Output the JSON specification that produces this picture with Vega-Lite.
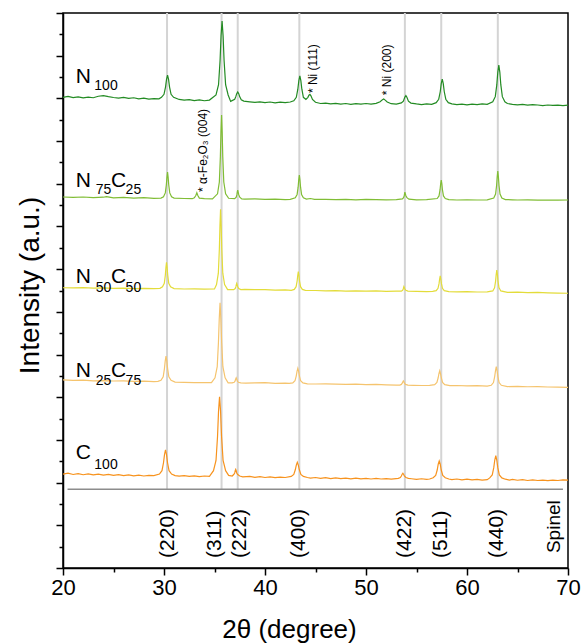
{
  "$schema": "https://vega.github.io/schema/vega-lite/v6.json",
  "width": 505,
  "height": 555,
  "autosize": "none",
  "padding": {"left": 63, "top": 13, "right": 14, "bottom": 76},
  "background": "white",
  "config": {
    "font": "Liberation Sans",
    "view": {"stroke": "black", "strokeWidth": 1.5},
    "axis": {"domainColor": "black", "tickColor": "black", "grid": false, "labelColor": "black", "titleColor": "black", "labelFont": "Liberation Sans", "titleFont": "Liberation Sans", "titleFontWeight": "normal", "domainWidth": 1.5, "tickWidth": 1.5},
    "text": {"font": "Liberation Sans", "color": "black"}
  },
  "datasets": {
    "peaks": [{"x": 30.3}, {"x": 35.7}, {"x": 37.3}, {"x": 43.4}, {"x": 53.85}, {"x": 57.45}, {"x": 63.05}],
    "big": [
      {"x": 21.25, "y": 22.70, "t": "N"},
      {"x": 21.25, "y": 17.86, "t": "N"}, {"x": 24.75, "y": 17.86, "t": "C"},
      {"x": 21.25, "y": 13.33, "t": "N"}, {"x": 24.75, "y": 13.33, "t": "C"},
      {"x": 21.25, "y": 8.96, "t": "N"}, {"x": 24.75, "y": 8.96, "t": "C"},
      {"x": 21.25, "y": 5.09, "t": "C"}
    ],
    "sub": [
      {"x": 23.1, "y": 22.39, "t": "100"},
      {"x": 23.25, "y": 17.50, "t": "75"}, {"x": 26.2, "y": 17.50, "t": "25"},
      {"x": 23.25, "y": 12.94, "t": "50"}, {"x": 26.2, "y": 12.94, "t": "50"},
      {"x": 23.25, "y": 8.57, "t": "25"}, {"x": 26.2, "y": 8.57, "t": "75"},
      {"x": 23.1, "y": 4.62, "t": "100"}
    ],
    "notes": [
      {"x": 34.28, "y": 17.61, "t": "* α-Fe₂O₃ (004)"},
      {"x": 45.17, "y": 22.25, "t": "* Ni (111)"},
      {"x": 52.45, "y": 22.15, "t": "* Ni (200)"}
    ],
    "hkl": [
      {"x": 30.4, "y": 0.47, "t": "(220)"},
      {"x": 35.05, "y": 0.47, "t": "(311)"},
      {"x": 37.5, "y": 0.47, "t": "(222)"},
      {"x": 43.35, "y": 0.47, "t": "(400)"},
      {"x": 53.85, "y": 0.47, "t": "(422)"},
      {"x": 57.4, "y": 0.47, "t": "(511)"},
      {"x": 62.95, "y": 0.47, "t": "(440)"}
    ],
    "spinel": [{"x": 68.6, "y": 0.70, "t": "Spinel"}],
    "xrd": [
      {"s":"N100","x":20,"y":22.05},{"s":"N100","x":20.5,"y":22.09},{"s":"N100","x":21,"y":22.04},{"s":"N100","x":21.5,"y":22.07},{"s":"N100","x":22,"y":22.02},{"s":"N100","x":22.5,"y":22.06},{"s":"N100","x":23,"y":22.03},{"s":"N100","x":23.5,"y":22.10},{"s":"N100","x":24,"y":22.13},{"s":"N100","x":24.5,"y":22.08},{"s":"N100","x":25,"y":22.04},{"s":"N100","x":25.5,"y":22.01},{"s":"N100","x":26,"y":22.05},{"s":"N100","x":26.5,"y":22.00},{"s":"N100","x":27,"y":22.03},{"s":"N100","x":27.5,"y":21.98},{"s":"N100","x":28,"y":22.01},{"s":"N100","x":28.5,"y":21.97},{"s":"N100","x":29,"y":21.99},{"s":"N100","x":29.5,"y":21.98},
      {"s":"N100","x":29.75,"y":22.05},{"s":"N100","x":30.0,"y":22.19},{"s":"N100","x":30.15,"y":22.53},{"s":"N100","x":30.25,"y":22.89},{"s":"N100","x":30.35,"y":23.09},{"s":"N100","x":30.45,"y":22.89},{"s":"N100","x":30.55,"y":22.53},{"s":"N100","x":30.7,"y":22.19},{"s":"N100","x":30.95,"y":22.05},
      {"s":"N100","x":31.5,"y":21.95},{"s":"N100","x":32,"y":21.92},{"s":"N100","x":32.5,"y":21.94},{"s":"N100","x":33,"y":21.90},{"s":"N100","x":33.5,"y":21.93},{"s":"N100","x":34,"y":21.89},{"s":"N100","x":34.5,"y":21.92},
      {"s":"N100","x":35.15,"y":22.16},{"s":"N100","x":35.4,"y":22.64},{"s":"N100","x":35.55,"y":23.76},{"s":"N100","x":35.65,"y":24.95},{"s":"N100","x":35.75,"y":25.62},{"s":"N100","x":35.85,"y":24.95},{"s":"N100","x":35.95,"y":23.76},{"s":"N100","x":36.1,"y":22.64},{"s":"N100","x":36.35,"y":22.16},
      {"s":"N100","x":36.6,"y":21.86},{"s":"N100","x":37.0,"y":21.96},{"s":"N100","x":37.1,"y":22.07},{"s":"N100","x":37.2,"y":22.22},{"s":"N100","x":37.3,"y":22.30},{"s":"N100","x":37.4,"y":22.22},{"s":"N100","x":37.5,"y":22.07},{"s":"N100","x":37.65,"y":21.93},{"s":"N100","x":37.9,"y":21.87},
      {"s":"N100","x":38.5,"y":21.84},{"s":"N100","x":39,"y":21.81},{"s":"N100","x":39.5,"y":21.84},{"s":"N100","x":40,"y":21.80},{"s":"N100","x":40.5,"y":21.83},{"s":"N100","x":41,"y":21.79},{"s":"N100","x":41.5,"y":21.82},{"s":"N100","x":42,"y":21.80},{"s":"N100","x":42.5,"y":21.83},
      {"s":"N100","x":42.85,"y":21.89},{"s":"N100","x":43.1,"y":22.05},{"s":"N100","x":43.25,"y":22.43},{"s":"N100","x":43.35,"y":22.83},{"s":"N100","x":43.45,"y":23.05},{"s":"N100","x":43.55,"y":22.83},{"s":"N100","x":43.65,"y":22.43},{"s":"N100","x":43.8,"y":22.05},{"s":"N100","x":44.05,"y":21.95},
      {"s":"N100","x":44.25,"y":22.05},{"s":"N100","x":44.35,"y":22.15},{"s":"N100","x":44.45,"y":22.19},{"s":"N100","x":44.55,"y":22.12},{"s":"N100","x":44.7,"y":21.95},{"s":"N100","x":45.0,"y":21.82},
      {"s":"N100","x":45.5,"y":21.76},{"s":"N100","x":46,"y":21.78},{"s":"N100","x":46.5,"y":21.74},{"s":"N100","x":47,"y":21.77},{"s":"N100","x":47.5,"y":21.73},{"s":"N100","x":48,"y":21.76},{"s":"N100","x":48.5,"y":21.72},{"s":"N100","x":49,"y":21.75},{"s":"N100","x":49.5,"y":21.73},{"s":"N100","x":50,"y":21.76},{"s":"N100","x":50.5,"y":21.73},{"s":"N100","x":51,"y":21.77},
      {"s":"N100","x":51.4,"y":21.84},{"s":"N100","x":51.6,"y":21.93},{"s":"N100","x":51.75,"y":21.97},{"s":"N100","x":51.9,"y":21.92},{"s":"N100","x":52.1,"y":21.83},{"s":"N100","x":52.5,"y":21.75},{"s":"N100","x":53.0,"y":21.73},
      {"s":"N100","x":53.5,"y":21.79},{"s":"N100","x":53.7,"y":21.87},{"s":"N100","x":53.85,"y":22.06},{"s":"N100","x":53.95,"y":22.13},{"s":"N100","x":54.05,"y":22.05},{"s":"N100","x":54.2,"y":21.87},{"s":"N100","x":54.45,"y":21.78},
      {"s":"N100","x":55,"y":21.74},{"s":"N100","x":55.5,"y":21.71},{"s":"N100","x":56,"y":21.74},{"s":"N100","x":56.5,"y":21.72},
      {"s":"N100","x":56.95,"y":21.80},{"s":"N100","x":57.2,"y":21.96},{"s":"N100","x":57.35,"y":22.31},{"s":"N100","x":57.45,"y":22.69},{"s":"N100","x":57.55,"y":22.90},{"s":"N100","x":57.65,"y":22.69},{"s":"N100","x":57.75,"y":22.31},{"s":"N100","x":57.9,"y":21.96},{"s":"N100","x":58.15,"y":21.80},
      {"s":"N100","x":58.5,"y":21.74},{"s":"N100","x":59,"y":21.71},{"s":"N100","x":59.5,"y":21.73},{"s":"N100","x":60,"y":21.70},{"s":"N100","x":60.5,"y":21.73},{"s":"N100","x":61,"y":21.71},{"s":"N100","x":61.5,"y":21.74},{"s":"N100","x":62,"y":21.72},
      {"s":"N100","x":62.55,"y":21.84},{"s":"N100","x":62.8,"y":22.08},{"s":"N100","x":62.95,"y":22.63},{"s":"N100","x":63.05,"y":23.23},{"s":"N100","x":63.15,"y":23.56},{"s":"N100","x":63.25,"y":23.23},{"s":"N100","x":63.35,"y":22.63},{"s":"N100","x":63.5,"y":22.08},{"s":"N100","x":63.75,"y":21.84},
      {"s":"N100","x":64,"y":21.76},{"s":"N100","x":64.5,"y":21.72},{"s":"N100","x":65,"y":21.70},{"s":"N100","x":65.5,"y":21.72},{"s":"N100","x":66,"y":21.68},{"s":"N100","x":66.5,"y":21.71},{"s":"N100","x":67,"y":21.69},{"s":"N100","x":67.5,"y":21.66},{"s":"N100","x":68,"y":21.69},{"s":"N100","x":68.5,"y":21.67},{"s":"N100","x":69,"y":21.68},{"s":"N100","x":69.5,"y":21.66},{"s":"N100","x":70,"y":21.68},

      {"s":"N75C25","x":20,"y":17.38},{"s":"N75C25","x":21,"y":17.36},{"s":"N75C25","x":22,"y":17.38},{"s":"N75C25","x":23,"y":17.35},{"s":"N75C25","x":24,"y":17.37},{"s":"N75C25","x":24.3,"y":17.40},{"s":"N75C25","x":25,"y":17.34},{"s":"N75C25","x":26,"y":17.36},{"s":"N75C25","x":27,"y":17.33},{"s":"N75C25","x":28,"y":17.35},{"s":"N75C25","x":29,"y":17.32},{"s":"N75C25","x":29.7,"y":17.33},
      {"s":"N75C25","x":29.95,"y":17.39},{"s":"N75C25","x":30.13,"y":17.57},{"s":"N75C25","x":30.23,"y":17.94},{"s":"N75C25","x":30.29,"y":18.30},{"s":"N75C25","x":30.35,"y":18.55},{"s":"N75C25","x":30.41,"y":18.30},{"s":"N75C25","x":30.47,"y":17.94},{"s":"N75C25","x":30.57,"y":17.57},{"s":"N75C25","x":30.75,"y":17.39},
      {"s":"N75C25","x":31,"y":17.33},{"s":"N75C25","x":32,"y":17.31},{"s":"N75C25","x":32.8,"y":17.30},{"s":"N75C25","x":33.0,"y":17.34},{"s":"N75C25","x":33.15,"y":17.45},{"s":"N75C25","x":33.25,"y":17.58},{"s":"N75C25","x":33.35,"y":17.45},{"s":"N75C25","x":33.5,"y":17.33},{"s":"N75C25","x":34,"y":17.30},{"s":"N75C25","x":34.8,"y":17.29},
      {"s":"N75C25","x":35.3,"y":17.53},{"s":"N75C25","x":35.48,"y":18.08},{"s":"N75C25","x":35.58,"y":19.26},{"s":"N75C25","x":35.64,"y":20.43},{"s":"N75C25","x":35.7,"y":21.22},{"s":"N75C25","x":35.76,"y":20.43},{"s":"N75C25","x":35.82,"y":19.26},{"s":"N75C25","x":35.92,"y":18.08},{"s":"N75C25","x":36.1,"y":17.53},{"s":"N75C25","x":36.4,"y":17.32},
      {"s":"N75C25","x":37.0,"y":17.30},{"s":"N75C25","x":37.15,"y":17.37},{"s":"N75C25","x":37.22,"y":17.49},{"s":"N75C25","x":37.26,"y":17.62},{"s":"N75C25","x":37.3,"y":17.70},{"s":"N75C25","x":37.34,"y":17.62},{"s":"N75C25","x":37.4,"y":17.49},{"s":"N75C25","x":37.5,"y":17.37},{"s":"N75C25","x":37.7,"y":17.29},
      {"s":"N75C25","x":38,"y":17.28},{"s":"N75C25","x":39,"y":17.29},{"s":"N75C25","x":40,"y":17.27},{"s":"N75C25","x":41,"y":17.28},{"s":"N75C25","x":42,"y":17.26},{"s":"N75C25","x":42.5,"y":17.27},
      {"s":"N75C25","x":43.0,"y":17.34},{"s":"N75C25","x":43.18,"y":17.50},{"s":"N75C25","x":43.28,"y":17.84},{"s":"N75C25","x":43.34,"y":18.18},{"s":"N75C25","x":43.4,"y":18.41},{"s":"N75C25","x":43.46,"y":18.18},{"s":"N75C25","x":43.52,"y":17.84},{"s":"N75C25","x":43.62,"y":17.50},{"s":"N75C25","x":43.8,"y":17.34},{"s":"N75C25","x":44.1,"y":17.28},
      {"s":"N75C25","x":44.5,"y":17.31},{"s":"N75C25","x":44.9,"y":17.27},{"s":"N75C25","x":46,"y":17.27},{"s":"N75C25","x":47,"y":17.26},{"s":"N75C25","x":48,"y":17.27},{"s":"N75C25","x":49,"y":17.25},{"s":"N75C25","x":50,"y":17.27},{"s":"N75C25","x":51,"y":17.26},{"s":"N75C25","x":52,"y":17.25},{"s":"N75C25","x":53,"y":17.26},
      {"s":"N75C25","x":53.6,"y":17.29},{"s":"N75C25","x":53.72,"y":17.35},{"s":"N75C25","x":53.79,"y":17.44},{"s":"N75C25","x":53.82,"y":17.54},{"s":"N75C25","x":53.85,"y":17.61},{"s":"N75C25","x":53.89,"y":17.54},{"s":"N75C25","x":53.95,"y":17.44},{"s":"N75C25","x":54.05,"y":17.35},{"s":"N75C25","x":54.25,"y":17.28},
      {"s":"N75C25","x":55,"y":17.25},{"s":"N75C25","x":56,"y":17.26},
      {"s":"N75C25","x":57.05,"y":17.31},{"s":"N75C25","x":57.23,"y":17.43},{"s":"N75C25","x":57.33,"y":17.71},{"s":"N75C25","x":57.39,"y":17.99},{"s":"N75C25","x":57.45,"y":18.17},{"s":"N75C25","x":57.51,"y":17.99},{"s":"N75C25","x":57.57,"y":17.71},{"s":"N75C25","x":57.67,"y":17.43},{"s":"N75C25","x":57.85,"y":17.31},{"s":"N75C25","x":58.2,"y":17.26},
      {"s":"N75C25","x":59,"y":17.24},{"s":"N75C25","x":60,"y":17.25},{"s":"N75C25","x":61,"y":17.24},{"s":"N75C25","x":62,"y":17.25},
      {"s":"N75C25","x":62.65,"y":17.33},{"s":"N75C25","x":62.83,"y":17.52},{"s":"N75C25","x":62.93,"y":17.92},{"s":"N75C25","x":62.99,"y":18.32},{"s":"N75C25","x":63.05,"y":18.59},{"s":"N75C25","x":63.11,"y":18.32},{"s":"N75C25","x":63.17,"y":17.92},{"s":"N75C25","x":63.27,"y":17.52},{"s":"N75C25","x":63.45,"y":17.33},{"s":"N75C25","x":63.8,"y":17.26},
      {"s":"N75C25","x":64.5,"y":17.25},{"s":"N75C25","x":65,"y":17.24},{"s":"N75C25","x":66,"y":17.25},{"s":"N75C25","x":67,"y":17.23},{"s":"N75C25","x":68,"y":17.24},{"s":"N75C25","x":69,"y":17.23},{"s":"N75C25","x":70,"y":17.24},

      {"s":"N50C50","x":20,"y":13.13},{"s":"N50C50","x":21,"y":13.12},{"s":"N50C50","x":22,"y":13.13},{"s":"N50C50","x":23,"y":13.11},{"s":"N50C50","x":24,"y":13.12},{"s":"N50C50","x":25,"y":13.10},{"s":"N50C50","x":26,"y":13.11},{"s":"N50C50","x":27,"y":13.09},{"s":"N50C50","x":28,"y":13.10},{"s":"N50C50","x":29,"y":13.09},{"s":"N50C50","x":29.6,"y":13.10},
      {"s":"N50C50","x":29.85,"y":13.17},{"s":"N50C50","x":30.03,"y":13.34},{"s":"N50C50","x":30.13,"y":13.71},{"s":"N50C50","x":30.19,"y":14.08},{"s":"N50C50","x":30.25,"y":14.32},{"s":"N50C50","x":30.31,"y":14.08},{"s":"N50C50","x":30.37,"y":13.71},{"s":"N50C50","x":30.47,"y":13.34},{"s":"N50C50","x":30.65,"y":13.17},
      {"s":"N50C50","x":31,"y":13.09},{"s":"N50C50","x":32,"y":13.07},{"s":"N50C50","x":33,"y":13.08},{"s":"N50C50","x":34,"y":13.06},{"s":"N50C50","x":35.0,"y":13.07},
      {"s":"N50C50","x":35.2,"y":13.28},{"s":"N50C50","x":35.38,"y":13.81},{"s":"N50C50","x":35.48,"y":14.93},{"s":"N50C50","x":35.54,"y":16.05},{"s":"N50C50","x":35.6,"y":16.80},{"s":"N50C50","x":35.66,"y":16.05},{"s":"N50C50","x":35.72,"y":14.93},{"s":"N50C50","x":35.82,"y":13.81},{"s":"N50C50","x":36.0,"y":13.28},{"s":"N50C50","x":36.3,"y":13.04},
      {"s":"N50C50","x":36.9,"y":13.04},{"s":"N50C50","x":37.05,"y":13.09},{"s":"N50C50","x":37.12,"y":13.18},{"s":"N50C50","x":37.16,"y":13.27},{"s":"N50C50","x":37.2,"y":13.33},{"s":"N50C50","x":37.24,"y":13.27},{"s":"N50C50","x":37.3,"y":13.18},{"s":"N50C50","x":37.4,"y":13.09},{"s":"N50C50","x":37.6,"y":13.04},
      {"s":"N50C50","x":38,"y":13.05},{"s":"N50C50","x":39,"y":13.04},{"s":"N50C50","x":40,"y":13.04},{"s":"N50C50","x":41,"y":13.02},{"s":"N50C50","x":42,"y":13.03},{"s":"N50C50","x":42.6,"y":13.01},
      {"s":"N50C50","x":42.9,"y":13.05},{"s":"N50C50","x":43.08,"y":13.18},{"s":"N50C50","x":43.18,"y":13.44},{"s":"N50C50","x":43.24,"y":13.70},{"s":"N50C50","x":43.3,"y":13.88},{"s":"N50C50","x":43.36,"y":13.70},{"s":"N50C50","x":43.42,"y":13.44},{"s":"N50C50","x":43.52,"y":13.18},{"s":"N50C50","x":43.7,"y":13.05},{"s":"N50C50","x":44.0,"y":13.01},
      {"s":"N50C50","x":45,"y":13.00},{"s":"N50C50","x":46,"y":12.98},{"s":"N50C50","x":47,"y":12.99},{"s":"N50C50","x":48,"y":12.97},{"s":"N50C50","x":49,"y":12.98},{"s":"N50C50","x":50,"y":12.97},{"s":"N50C50","x":51,"y":12.98},{"s":"N50C50","x":52,"y":12.96},{"s":"N50C50","x":53,"y":12.97},
      {"s":"N50C50","x":53.5,"y":12.97},{"s":"N50C50","x":53.62,"y":13.01},{"s":"N50C50","x":53.69,"y":13.07},{"s":"N50C50","x":53.72,"y":13.14},{"s":"N50C50","x":53.75,"y":13.18},{"s":"N50C50","x":53.79,"y":13.14},{"s":"N50C50","x":53.85,"y":13.07},{"s":"N50C50","x":53.95,"y":13.01},{"s":"N50C50","x":54.15,"y":12.97},
      {"s":"N50C50","x":55,"y":12.96},{"s":"N50C50","x":56,"y":12.95},{"s":"N50C50","x":56.6,"y":12.96},
      {"s":"N50C50","x":56.95,"y":12.99},{"s":"N50C50","x":57.13,"y":13.10},{"s":"N50C50","x":57.23,"y":13.32},{"s":"N50C50","x":57.29,"y":13.53},{"s":"N50C50","x":57.35,"y":13.68},{"s":"N50C50","x":57.41,"y":13.53},{"s":"N50C50","x":57.47,"y":13.32},{"s":"N50C50","x":57.57,"y":13.10},{"s":"N50C50","x":57.75,"y":12.99},
      {"s":"N50C50","x":58.2,"y":12.95},{"s":"N50C50","x":59,"y":12.94},{"s":"N50C50","x":60,"y":12.95},{"s":"N50C50","x":61,"y":12.93},{"s":"N50C50","x":62,"y":12.94},
      {"s":"N50C50","x":62.55,"y":12.98},{"s":"N50C50","x":62.73,"y":13.13},{"s":"N50C50","x":62.83,"y":13.44},{"s":"N50C50","x":62.89,"y":13.75},{"s":"N50C50","x":62.95,"y":13.96},{"s":"N50C50","x":63.01,"y":13.75},{"s":"N50C50","x":63.07,"y":13.44},{"s":"N50C50","x":63.17,"y":13.13},{"s":"N50C50","x":63.35,"y":12.98},
      {"s":"N50C50","x":64,"y":12.91},{"s":"N50C50","x":65,"y":12.92},{"s":"N50C50","x":66,"y":12.90},{"s":"N50C50","x":67,"y":12.91},{"s":"N50C50","x":68,"y":12.89},{"s":"N50C50","x":69,"y":12.88},{"s":"N50C50","x":70,"y":12.87},

      {"s":"N25C75","x":20,"y":8.81},{"s":"N25C75","x":21,"y":8.79},{"s":"N25C75","x":22,"y":8.80},{"s":"N25C75","x":23,"y":8.77},{"s":"N25C75","x":24,"y":8.78},{"s":"N25C75","x":25,"y":8.76},{"s":"N25C75","x":26,"y":8.77},{"s":"N25C75","x":27,"y":8.74},{"s":"N25C75","x":28,"y":8.75},{"s":"N25C75","x":29,"y":8.73},{"s":"N25C75","x":29.4,"y":8.74},
      {"s":"N25C75","x":29.7,"y":8.79},{"s":"N25C75","x":29.92,"y":8.96},{"s":"N25C75","x":30.04,"y":9.33},{"s":"N25C75","x":30.12,"y":9.69},{"s":"N25C75","x":30.2,"y":9.93},{"s":"N25C75","x":30.28,"y":9.69},{"s":"N25C75","x":30.36,"y":9.33},{"s":"N25C75","x":30.48,"y":8.96},{"s":"N25C75","x":30.7,"y":8.79},
      {"s":"N25C75","x":31.1,"y":8.71},{"s":"N25C75","x":32,"y":8.70},{"s":"N25C75","x":33,"y":8.68},{"s":"N25C75","x":34,"y":8.69},{"s":"N25C75","x":34.7,"y":8.68},
      {"s":"N25C75","x":35.05,"y":8.91},{"s":"N25C75","x":35.27,"y":9.43},{"s":"N25C75","x":35.39,"y":10.56},{"s":"N25C75","x":35.47,"y":11.68},{"s":"N25C75","x":35.55,"y":12.43},{"s":"N25C75","x":35.63,"y":11.68},{"s":"N25C75","x":35.71,"y":10.56},{"s":"N25C75","x":35.83,"y":9.43},{"s":"N25C75","x":36.05,"y":8.91},{"s":"N25C75","x":36.35,"y":8.67},
      {"s":"N25C75","x":36.75,"y":8.67},{"s":"N25C75","x":36.95,"y":8.70},{"s":"N25C75","x":37.03,"y":8.75},{"s":"N25C75","x":37.09,"y":8.84},{"s":"N25C75","x":37.15,"y":8.91},{"s":"N25C75","x":37.21,"y":8.84},{"s":"N25C75","x":37.27,"y":8.75},{"s":"N25C75","x":37.37,"y":8.70},{"s":"N25C75","x":37.6,"y":8.67},
      {"s":"N25C75","x":38.1,"y":8.66},{"s":"N25C75","x":39,"y":8.67},{"s":"N25C75","x":40,"y":8.68},{"s":"N25C75","x":41,"y":8.65},{"s":"N25C75","x":42,"y":8.66},{"s":"N25C75","x":42.4,"y":8.65},
      {"s":"N25C75","x":42.75,"y":8.67},{"s":"N25C75","x":42.97,"y":8.77},{"s":"N25C75","x":43.09,"y":8.99},{"s":"N25C75","x":43.17,"y":9.21},{"s":"N25C75","x":43.25,"y":9.35},{"s":"N25C75","x":43.33,"y":9.21},{"s":"N25C75","x":43.41,"y":8.99},{"s":"N25C75","x":43.53,"y":8.77},{"s":"N25C75","x":43.75,"y":8.67},
      {"s":"N25C75","x":44.2,"y":8.63},{"s":"N25C75","x":45,"y":8.62},{"s":"N25C75","x":46,"y":8.63},{"s":"N25C75","x":47,"y":8.61},{"s":"N25C75","x":48,"y":8.60},{"s":"N25C75","x":49,"y":8.61},{"s":"N25C75","x":50,"y":8.59},{"s":"N25C75","x":51,"y":8.60},{"s":"N25C75","x":52,"y":8.58},{"s":"N25C75","x":53,"y":8.57},
      {"s":"N25C75","x":53.35,"y":8.57},{"s":"N25C75","x":53.5,"y":8.60},{"s":"N25C75","x":53.59,"y":8.66},{"s":"N25C75","x":53.65,"y":8.72},{"s":"N25C75","x":53.7,"y":8.76},{"s":"N25C75","x":53.75,"y":8.72},{"s":"N25C75","x":53.81,"y":8.66},{"s":"N25C75","x":53.91,"y":8.60},{"s":"N25C75","x":54.15,"y":8.57},
      {"s":"N25C75","x":54.7,"y":8.56},{"s":"N25C75","x":55.5,"y":8.55},{"s":"N25C75","x":56.3,"y":8.56},
      {"s":"N25C75","x":56.8,"y":8.59},{"s":"N25C75","x":57.02,"y":8.69},{"s":"N25C75","x":57.14,"y":8.90},{"s":"N25C75","x":57.22,"y":9.10},{"s":"N25C75","x":57.3,"y":9.24},{"s":"N25C75","x":57.38,"y":9.10},{"s":"N25C75","x":57.46,"y":8.90},{"s":"N25C75","x":57.58,"y":8.69},{"s":"N25C75","x":57.8,"y":8.59},
      {"s":"N25C75","x":58.3,"y":8.54},{"s":"N25C75","x":59,"y":8.55},{"s":"N25C75","x":60,"y":8.53},{"s":"N25C75","x":61,"y":8.54},{"s":"N25C75","x":62,"y":8.52},
      {"s":"N25C75","x":62.4,"y":8.56},{"s":"N25C75","x":62.62,"y":8.69},{"s":"N25C75","x":62.74,"y":8.97},{"s":"N25C75","x":62.82,"y":9.24},{"s":"N25C75","x":62.9,"y":9.43},{"s":"N25C75","x":62.98,"y":9.24},{"s":"N25C75","x":63.06,"y":8.97},{"s":"N25C75","x":63.18,"y":8.69},{"s":"N25C75","x":63.4,"y":8.56},
      {"s":"N25C75","x":64,"y":8.50},{"s":"N25C75","x":65,"y":8.51},{"s":"N25C75","x":66,"y":8.49},{"s":"N25C75","x":67,"y":8.50},{"s":"N25C75","x":68,"y":8.48},{"s":"N25C75","x":69,"y":8.47},{"s":"N25C75","x":70,"y":8.46},

      {"s":"C100","x":20,"y":4.40},{"s":"C100","x":20.5,"y":4.44},{"s":"C100","x":21,"y":4.38},{"s":"C100","x":21.5,"y":4.42},{"s":"C100","x":22,"y":4.37},{"s":"C100","x":22.5,"y":4.41},{"s":"C100","x":23,"y":4.36},{"s":"C100","x":23.5,"y":4.40},{"s":"C100","x":24,"y":4.35},{"s":"C100","x":24.5,"y":4.39},{"s":"C100","x":25,"y":4.34},{"s":"C100","x":25.5,"y":4.37},{"s":"C100","x":26,"y":4.33},{"s":"C100","x":26.5,"y":4.36},{"s":"C100","x":27,"y":4.32},{"s":"C100","x":27.5,"y":4.35},{"s":"C100","x":28,"y":4.31},{"s":"C100","x":28.5,"y":4.34},{"s":"C100","x":29,"y":4.33},
      {"s":"C100","x":29.55,"y":4.40},{"s":"C100","x":29.8,"y":4.56},{"s":"C100","x":29.95,"y":4.93},{"s":"C100","x":30.05,"y":5.31},{"s":"C100","x":30.15,"y":5.53},{"s":"C100","x":30.25,"y":5.31},{"s":"C100","x":30.35,"y":4.93},{"s":"C100","x":30.5,"y":4.56},{"s":"C100","x":30.75,"y":4.40},
      {"s":"C100","x":31.1,"y":4.33},{"s":"C100","x":31.5,"y":4.30},{"s":"C100","x":32,"y":4.33},{"s":"C100","x":32.5,"y":4.29},{"s":"C100","x":33,"y":4.32},{"s":"C100","x":33.5,"y":4.28},{"s":"C100","x":34,"y":4.31},{"s":"C100","x":34.5,"y":4.29},
      {"s":"C100","x":34.9,"y":4.56},{"s":"C100","x":35.15,"y":5.04},{"s":"C100","x":35.3,"y":6.16},{"s":"C100","x":35.4,"y":7.35},{"s":"C100","x":35.5,"y":8.02},{"s":"C100","x":35.6,"y":7.35},{"s":"C100","x":35.7,"y":6.16},{"s":"C100","x":35.85,"y":5.04},{"s":"C100","x":36.1,"y":4.56},{"s":"C100","x":36.4,"y":4.34},
      {"s":"C100","x":36.75,"y":4.31},{"s":"C100","x":36.9,"y":4.38},{"s":"C100","x":37.0,"y":4.45},{"s":"C100","x":37.05,"y":4.56},{"s":"C100","x":37.1,"y":4.62},{"s":"C100","x":37.15,"y":4.56},{"s":"C100","x":37.2,"y":4.45},{"s":"C100","x":37.3,"y":4.38},{"s":"C100","x":37.5,"y":4.31},
      {"s":"C100","x":37.8,"y":4.27},{"s":"C100","x":38.5,"y":4.29},{"s":"C100","x":39,"y":4.25},{"s":"C100","x":39.5,"y":4.28},{"s":"C100","x":40,"y":4.24},{"s":"C100","x":40.5,"y":4.27},{"s":"C100","x":41,"y":4.23},{"s":"C100","x":41.5,"y":4.26},{"s":"C100","x":42,"y":4.24},
      {"s":"C100","x":42.6,"y":4.29},{"s":"C100","x":42.85,"y":4.38},{"s":"C100","x":43.0,"y":4.60},{"s":"C100","x":43.1,"y":4.82},{"s":"C100","x":43.2,"y":4.95},{"s":"C100","x":43.3,"y":4.82},{"s":"C100","x":43.4,"y":4.60},{"s":"C100","x":43.55,"y":4.38},{"s":"C100","x":43.8,"y":4.29},
      {"s":"C100","x":44.2,"y":4.24},{"s":"C100","x":44.5,"y":4.21},{"s":"C100","x":45,"y":4.24},{"s":"C100","x":45.5,"y":4.20},{"s":"C100","x":46,"y":4.23},{"s":"C100","x":46.5,"y":4.19},{"s":"C100","x":47,"y":4.22},{"s":"C100","x":47.5,"y":4.19},{"s":"C100","x":48,"y":4.21},{"s":"C100","x":48.5,"y":4.18},{"s":"C100","x":49,"y":4.21},{"s":"C100","x":49.5,"y":4.18},{"s":"C100","x":50,"y":4.20},{"s":"C100","x":50.5,"y":4.17},{"s":"C100","x":51,"y":4.20},{"s":"C100","x":51.5,"y":4.17},{"s":"C100","x":52,"y":4.19},{"s":"C100","x":52.5,"y":4.16},
      {"s":"C100","x":53.2,"y":4.20},{"s":"C100","x":53.4,"y":4.24},{"s":"C100","x":53.5,"y":4.31},{"s":"C100","x":53.58,"y":4.39},{"s":"C100","x":53.65,"y":4.44},{"s":"C100","x":53.72,"y":4.39},{"s":"C100","x":53.8,"y":4.31},{"s":"C100","x":53.95,"y":4.24},{"s":"C100","x":54.2,"y":4.20},
      {"s":"C100","x":54.5,"y":4.18},{"s":"C100","x":55,"y":4.15},{"s":"C100","x":55.5,"y":4.18},{"s":"C100","x":56,"y":4.15},{"s":"C100","x":56.3,"y":4.17},
      {"s":"C100","x":56.65,"y":4.23},{"s":"C100","x":56.9,"y":4.34},{"s":"C100","x":57.05,"y":4.59},{"s":"C100","x":57.15,"y":4.86},{"s":"C100","x":57.25,"y":5.01},{"s":"C100","x":57.35,"y":4.86},{"s":"C100","x":57.45,"y":4.59},{"s":"C100","x":57.6,"y":4.34},{"s":"C100","x":57.85,"y":4.23},
      {"s":"C100","x":58.2,"y":4.17},{"s":"C100","x":58.5,"y":4.14},{"s":"C100","x":59,"y":4.17},{"s":"C100","x":59.5,"y":4.13},{"s":"C100","x":60,"y":4.16},{"s":"C100","x":60.5,"y":4.13},{"s":"C100","x":61,"y":4.15},{"s":"C100","x":61.5,"y":4.12},{"s":"C100","x":62,"y":4.14},
      {"s":"C100","x":62.25,"y":4.22},{"s":"C100","x":62.5,"y":4.36},{"s":"C100","x":62.65,"y":4.70},{"s":"C100","x":62.75,"y":5.06},{"s":"C100","x":62.85,"y":5.26},{"s":"C100","x":62.95,"y":5.06},{"s":"C100","x":63.05,"y":4.70},{"s":"C100","x":63.2,"y":4.36},{"s":"C100","x":63.45,"y":4.22},
      {"s":"C100","x":63.8,"y":4.16},{"s":"C100","x":64.2,"y":4.12},{"s":"C100","x":64.5,"y":4.15},{"s":"C100","x":65,"y":4.11},{"s":"C100","x":65.5,"y":4.14},{"s":"C100","x":66,"y":4.10},{"s":"C100","x":66.5,"y":4.13},{"s":"C100","x":67,"y":4.10},{"s":"C100","x":67.5,"y":4.12},{"s":"C100","x":68,"y":4.09},{"s":"C100","x":68.5,"y":4.12},{"s":"C100","x":69,"y":4.10},{"s":"C100","x":69.5,"y":4.13},{"s":"C100","x":70,"y":4.12}
    ]
  },
  "resolve": {"axis": {"x": "independent", "y": "independent"}},
  "layer": [
    {
      "data": {"name": "peaks"},
      "mark": {"type": "rule", "color": "#d4d4d4", "strokeWidth": 2},
      "encoding": {
        "x": {"field": "x", "type": "quantitative", "scale": {"domain": [20, 70], "nice": false, "zero": false},
              "axis": {"orient": "bottom", "values": [25, 35, 45, 55, 65], "tickSize": 4, "labels": false, "domain": false, "title": null}},
        "y": {"datum": 3.69, "type": "quantitative", "scale": {"domain": [0, 26], "nice": false, "zero": false},
              "axis": {"orient": "left", "values": [1, 3, 5, 7, 9, 11, 13, 15, 17, 19, 21, 23, 25], "tickSize": 4, "labels": false, "domain": false, "title": null}},
        "y2": {"datum": 26}
      }
    },
    {
      "data": {"values": [{}]},
      "mark": {"type": "rule", "color": "#8c8c8c", "strokeWidth": 1.5},
      "encoding": {
        "x": {"datum": 20.45, "type": "quantitative", "axis": null},
        "x2": {"datum": 69.5},
        "y": {"datum": 3.69, "type": "quantitative", "axis": null}
      }
    },
    {
      "data": {"name": "xrd"},
      "mark": {"type": "line", "strokeWidth": 1.2},
      "encoding": {
        "x": {"field": "x", "type": "quantitative", "scale": {"domain": [20, 70], "nice": false, "zero": false},
              "axis": {"orient": "bottom", "values": [20, 30, 40, 50, 60, 70], "tickSize": 7, "labelFontSize": 22, "labelPadding": 2, "title": "2θ (degree)", "titleFontSize": 26, "titlePadding": 18, "titleX": 226, "titleAlign": "center", "labelFlush": false}},
        "y": {"field": "y", "type": "quantitative", "scale": {"domain": [0, 26], "nice": false, "zero": false},
              "axis": {"orient": "left", "values": [0, 2, 4, 6, 8, 10, 12, 14, 16, 18, 20, 22, 24, 26], "tickSize": 7, "labels": false, "title": "Intensity (a.u.)", "titleFontSize": 28, "titlePadding": 11, "titleY": 272, "titleAlign": "center"}},
        "color": {"field": "s", "type": "nominal", "legend": null,
                  "scale": {"domain": ["N100", "N75C25", "N50C50", "N25C75", "C100"], "range": ["#238b23", "#80bd35", "#e3dc3a", "#f5c46e", "#f7931e"]}},
        "detail": {"field": "s"}
      }
    },
    {
      "data": {"name": "big"},
      "mark": {"type": "text", "fontSize": 21, "align": "left", "baseline": "alphabetic"},
      "encoding": {
        "x": {"field": "x", "type": "quantitative", "axis": null},
        "y": {"field": "y", "type": "quantitative", "axis": null},
        "text": {"field": "t"}
      }
    },
    {
      "data": {"name": "sub"},
      "mark": {"type": "text", "fontSize": 14, "align": "left", "baseline": "alphabetic"},
      "encoding": {
        "x": {"field": "x", "type": "quantitative", "axis": null},
        "y": {"field": "y", "type": "quantitative", "axis": null},
        "text": {"field": "t"}
      }
    },
    {
      "data": {"name": "notes"},
      "mark": {"type": "text", "fontSize": 12, "align": "left", "baseline": "alphabetic", "angle": 270},
      "encoding": {
        "x": {"field": "x", "type": "quantitative", "axis": null},
        "y": {"field": "y", "type": "quantitative", "axis": null},
        "text": {"field": "t"}
      }
    },
    {
      "data": {"name": "hkl"},
      "mark": {"type": "text", "fontSize": 21, "align": "left", "baseline": "middle", "angle": 270},
      "encoding": {
        "x": {"field": "x", "type": "quantitative", "axis": null},
        "y": {"field": "y", "type": "quantitative", "axis": null},
        "text": {"field": "t"}
      }
    },
    {
      "data": {"name": "spinel"},
      "mark": {"type": "text", "fontSize": 19, "align": "left", "baseline": "middle", "angle": 270},
      "encoding": {
        "x": {"field": "x", "type": "quantitative", "axis": null},
        "y": {"field": "y", "type": "quantitative", "axis": null},
        "text": {"field": "t"}
      }
    }
  ]
}
